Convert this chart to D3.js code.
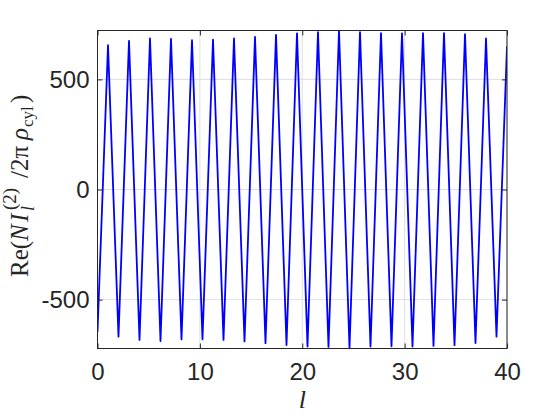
<html>
<head>
    <meta charset="utf-8">
    <style>
        body { margin: 0; background: #fff; }
        .tick text { font-family: "Liberation Sans", Arial, sans-serif; font-size: 24px; fill: #262626; }
    </style>
</head>
<body>
    <script src="https://d3js.org/d3.v7.min.js"></script>
    <script>
        var width = 560,
            height = 420;

        // sample points along l
        var lValues = [0, 1.026, 2.051, 3.077, 4.103, 5.128, 6.154, 7.179, 8.205, 9.231,
            10.256, 11.282, 12.308, 13.333, 14.359, 15.385, 16.410, 17.436, 18.462, 19.487,
            20.513, 21.538, 22.564, 23.590, 24.615, 25.641, 26.667, 27.692, 28.718, 29.744,
            30.769, 31.795, 32.821, 33.846, 34.872, 35.897, 36.923, 37.949, 38.974, 40];

        // Re(N I_l^(2) / 2 pi rho_cyl)
        var reValues = [-647, 655, -668, 675, -683, 686, -688, 684, -681, 678,
            -680, 680, -683, 686, -690, 693, -698, 702, -706, 709,
            -713, 715, -715, 722, -720, 715, -713, 710, -712, 709,
            -713, 710, -710, 710, -707, 705, -697, 686, -668, 650];

        var xTicks = [0, 10, 20, 30, 40];
        var yTicks = [-500, 0, 500];
        var xDomain = [0, 40];
        var yDomain = [-722, 722];

        // plot box (note: "top" is taken by window.top)
        var padL = 97.5, padR = 507, padT = 30.5, padB = 348.5;

        var svg = d3.select("body")
            .append("svg")
            .attr("width", width)
            .attr("height", height);

        var x = d3.scaleLinear().domain(xDomain).range([padL, padR]);
        var y = d3.scaleLinear().domain(yDomain).range([padB, padT]);

        // grid
        svg.append("g")
            .selectAll("line")
            .data(xTicks)
            .enter()
            .append("line")
            .attr("x1", d => x(d)).attr("x2", d => x(d))
            .attr("y1", padT).attr("y2", padB)
            .attr("stroke", "#dfdfdf").attr("stroke-width", 1);
        svg.append("g")
            .selectAll("line")
            .data(yTicks)
            .enter()
            .append("line")
            .attr("x1", padL).attr("x2", padR)
            .attr("y1", d => y(d)).attr("y2", d => y(d))
            .attr("stroke", "#dfdfdf").attr("stroke-width", 1);

        svg.append("clipPath")
            .attr("id", "plotclip")
            .append("rect")
            .attr("x", padL).attr("y", padT)
            .attr("width", padR - padL).attr("height", padB - padT);

        var line = d3.line()
            .x(function (d, i) { return x(lValues[i]); })
            .y(function (d) { return y(d); });

        svg.append("path")
            .datum(reValues)
            .attr("clip-path", "url(#plotclip)")
            .attr("fill", "none")
            .attr("stroke", "#0000ff")
            .attr("stroke-width", 1.8)
            .attr("stroke-linejoin", "round")
            .attr("d", line);

        // axes, ticks inward on all sides
        var tickLen = 5;
        var fmt = function (d) { return String(d); }; // plain hyphen like matlab
        var xb = svg.append("g").attr("transform", "translate(0," + padB + ")")
            .call(d3.axisBottom(x).tickValues(xTicks).tickSize(-tickLen).tickPadding(14).tickFormat(fmt));
        var xt = svg.append("g").attr("transform", "translate(0," + padT + ")")
            .call(d3.axisTop(x).tickValues(xTicks).tickSize(-tickLen).tickFormat(""));
        var yAxL = svg.append("g").attr("transform", "translate(" + padL + ",0)")
            .call(d3.axisLeft(y).tickValues(yTicks).tickSize(-tickLen).tickPadding(8).tickFormat(fmt));
        var yAxR = svg.append("g").attr("transform", "translate(" + padR + ",0)")
            .call(d3.axisRight(y).tickValues(yTicks).tickSize(-tickLen).tickFormat(""));

        [xb, xt, yAxL, yAxR].forEach(function (g) {
            g.select(".domain").remove();
            g.selectAll(".tick line").attr("stroke", "#262626");
        });

        svg.append("rect")
            .attr("x", padL).attr("y", padT)
            .attr("width", padR - padL).attr("height", padB - padT)
            .attr("fill", "none")
            .attr("stroke", "#262626")
            .attr("stroke-width", 1);

        // axis labels
        var serif = "'Liberation Serif', 'DejaVu Serif', serif";
        svg.append("text")
            .attr("x", (padL + padR) / 2)
            .attr("y", 408)
            .attr("text-anchor", "middle")
            .attr("font-family", serif)
            .attr("font-style", "italic")
            .attr("font-size", 26)
            .attr("fill", "#262626")
            .text("l");

        // y label, laid out piece by piece along the rotated baseline
        var ylab = svg.append("text")
            .attr("transform", "translate(28,277) rotate(-90)")
            .attr("font-family", serif)
            .attr("font-size", 25)
            .attr("fill", "#262626");
        ylab.append("tspan").attr("x", 0).attr("y", 0).text("Re(");
        ylab.append("tspan").attr("x", 36).attr("y", 0).attr("font-style", "italic").text("N");
        ylab.append("tspan").attr("x", 55).attr("y", 0).attr("font-style", "italic").text("I");
        ylab.append("tspan").attr("x", 67).attr("y", -12).attr("font-size", 19).text("(2)");
        ylab.append("tspan").attr("x", 66).attr("y", 6).attr("font-size", 18).attr("font-style", "italic").text("l");
        ylab.append("tspan").attr("x", 99).attr("y", 0).text("/2\u03C0");
        ylab.append("tspan").attr("x", 137).attr("y", 0).attr("font-style", "italic").text("\u03C1");
        ylab.append("tspan").attr("x", 150).attr("y", 5).attr("font-size", 17).text("cyl");
        ylab.append("tspan").attr("x", 174).attr("y", 0).text(")");
    </script>
</body>
</html>
